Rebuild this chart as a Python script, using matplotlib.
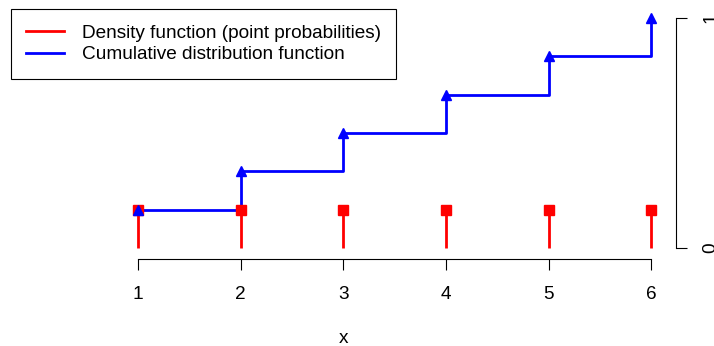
import numpy as np
import matplotlib
matplotlib.use('Agg')
import matplotlib.pyplot as plt

plt.rcParams['font.family'] = ['Liberation Sans', 'DejaVu Sans']

# die outcomes and their probabilities
x_vals = [1, 2, 3, 4, 5, 6]
density = [1/6, 1/6, 1/6, 1/6, 1/6, 1/6]
cdf = [1/6, 2/6, 3/6, 4/6, 5/6, 6/6]
y_ticks = [0, 1]

W, H = 714, 346
fig = plt.figure(figsize=(W / 100, H / 100), dpi=100)
# plot region in pixels
left, right, top, bottom = 10.8, 676, 8.8, 258.5
ax = fig.add_axes([left / W, 1 - bottom / H, (right - left) / W, (bottom - top) / H])
ax.set_xlim(-0.24, 6.24)
ax.set_ylim(-0.046, 1.04)

fs = 13.7

# cdf step line
ax.plot(x_vals, cdf, color='blue', lw=2, drawstyle='steps-post', zorder=2)
# point probabilities
ax.vlines(x_vals, 0, density, color='red', lw=2, zorder=3)
ax.plot(x_vals, density, 's', color='red', ms=6.5, zorder=3)
ax.plot(x_vals, cdf, '^', color='blue', ms=7.5, zorder=4)

for s in ['top', 'left']:
    ax.spines[s].set_visible(False)
ax.spines['bottom'].set_bounds(1, 6)
ax.spines['right'].set_bounds(0, 1)
ax.spines['bottom'].set_linewidth(0.8)
ax.spines['right'].set_linewidth(0.8)

ax.set_xticks(x_vals)
ax.yaxis.tick_right()
ax.set_yticks(y_ticks)
ax.tick_params(axis='x', length=8, width=0.8, pad=12, labelsize=fs)
ax.tick_params(axis='y', length=8, width=0.8, pad=11, labelsize=fs, labelrotation=90)
for lab in ax.get_yticklabels():
    lab.set_verticalalignment('center')
ax.set_xlabel('x', fontsize=fs, labelpad=19.5)

h_red, = ax.plot([], [], color='red', lw=2)
h_blue, = ax.plot([], [], color='blue', lw=2)
leg = ax.legend([h_red, h_blue],
                ['Density function (point probabilities)', 'Cumulative distribution function'],
                loc='upper left', bbox_to_anchor=(0, 1), borderaxespad=0,
                fontsize=fs, fancybox=False, framealpha=1, edgecolor='black',
                handlelength=1.95, handletextpad=0.95, borderpad=0.82, labelspacing=0.22)
leg.get_frame().set_linewidth(0.8)

fig.savefig('out.png', dpi=100)
